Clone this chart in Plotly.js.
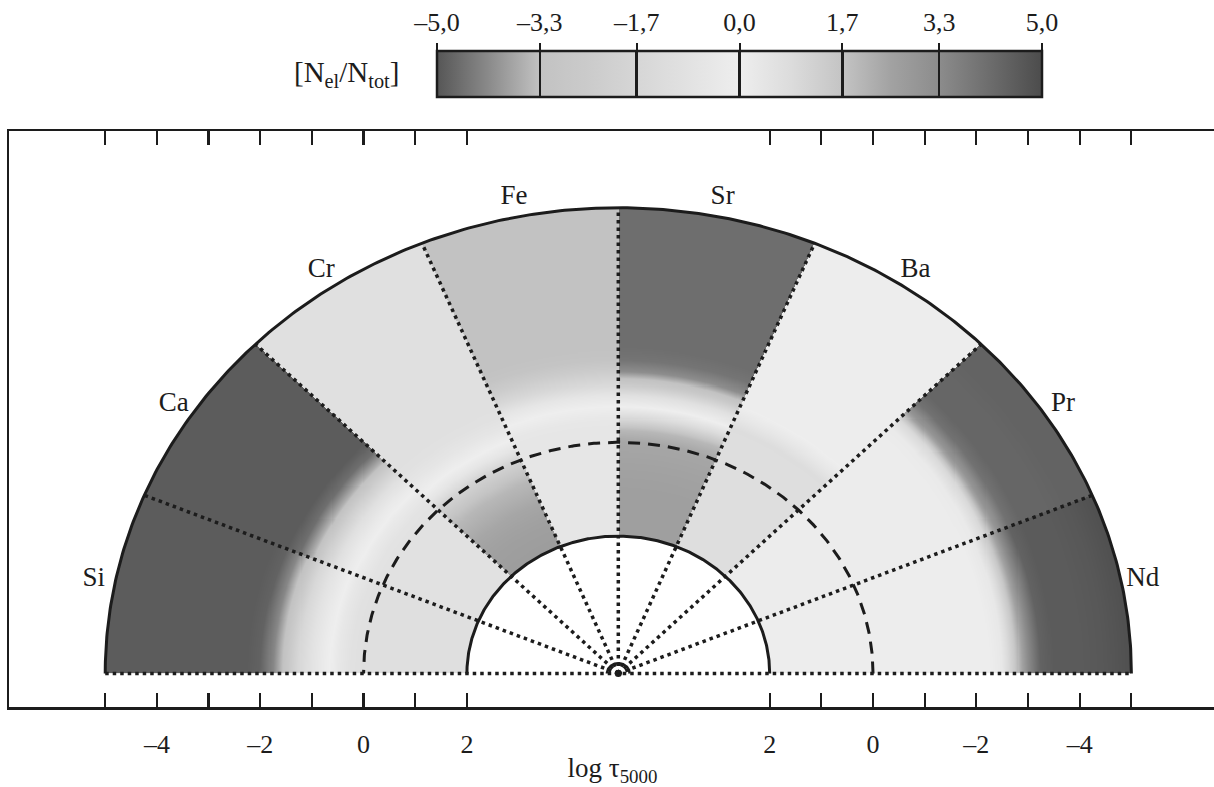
<!DOCTYPE html>
<html><head><meta charset="utf-8">
<script src="https://cdn.plot.ly/plotly-3.0.1.min.js"></script>
<style>html,body{margin:0;padding:0;overflow:hidden;background:#fff}</style>
</head><body><div id="chart" style="width:1218px;height:787px"></div>
<script>
// ---- data ----
const elements = ['Si', 'Ca', 'Cr', 'Fe', 'Sr', 'Ba', 'Pr', 'Nd'];   // sectors from left (180°) to right (0°)
const logTau = [-5, -4.5, -4, -3.5, -3.25, -3, -2.75, -2.5, -2.25, -2, -1.75, -1.5, -1.25, -1, -0.75, -0.5, -0.25, 0, 0.5, 1, 1.5, 2];
const abundSi = [-4.9, -4.9, -4.9, -4.9, -4.9, -4.9, -4.9, -4.9, -4.9, -4.8, -4.2, -3.0, -1.6, -0.8, -0.2, 0.3, 0.6, 0.7, 0.7, 0.7, 0.7, 0.7];
const abundCa = [-4.9, -4.9, -4.9, -4.9, -4.9, -4.9, -4.9, -4.9, -4.9, -4.9, -4.6, -3.6, -2.2, -1.0, -0.3, 0.2, 0.5, 0.6, 0.6, 0.6, 0.6, 0.6];
const abundCr = [-1.0, -1.0, -1.0, -1.0, -1.0, -1.0, -1.0, -1.0, -1.0, -1.0, -1.0, -1.0, -1.0, -0.9, -0.6, -0.1, 0.4, 1.2, 2.0, 2.4, 2.6, 2.7];
const abundFe = [-3.3, -3.3, -3.3, -3.3, -3.3, -3.3, -3.3, -3.3, -3.3, -3.3, -3.1, -2.4, -1.6, -0.6, 0.0, 0.3, 0.4, 0.4, 0.4, 0.4, 0.4, 0.4];
const abundSr = [-4.6, -4.6, -4.6, -4.6, -4.6, -4.6, -4.6, -4.6, -4.6, -4.6, -4.5, -4.1, -2.8, -1.0, 0.0, 1.0, 2.0, 2.4, 2.5, 2.6, 2.6, 2.6];
const abundBa = [0.05, 0.05, 0.05, 0.05, 0.05, 0.05, 0.05, 0.05, 0.05, 0.05, 0.05, 0.05, 0.05, -0.5, -1.2, -1.1, -1.1, -1.1, -1.1, -1.1, -1.1, -1.1];
const abundPr = [4.4, 4.4, 4.3, 4.3, 4.0, 3.0, 1.0, 0.2, 0.1, 0.1, 0.1, 0.1, 0.1, 0.1, 0.1, 0.1, 0.1, 0.1, 0.1, 0.1, 0.1, 0.1];
const abundNd = [4.9, 4.7, 4.6, 4.6, 4.4, 3.3, 1.5, 0.3, 0.05, 0.05, 0.05, 0.05, 0.05, 0.05, 0.05, 0.05, 0.05, 0.05, 0.05, 0.05, 0.05, 0.05];
const axisMajorTicks = [-4, -2, 0, 2];
const axisMajorText = ['\u20134', '\u20132', '0', '2'];
const axisMinorTicks = [-5, -3, -1, 1];
const cbarTicks = [-5, -3.3, -1.7, 0, 1.7, 3.3, 5];
const cbarTickText = ['\u20135,0', '\u20133,3', '\u20131,7', '0,0', '1,7', '3,3', '5,0'];
const logTauDashed = 0;

// ---- geometry ----
const profiles = [abundSi, abundCa, abundCr, abundFe, abundSr, abundBa, abundPr, abundNd];
const nSec = elements.length;
const secW = 180 / nSec;
const R0 = 4.93;                       // log tau at the centre of the half-disc
const rOut = R0 - logTau[0];
const rIn = R0 - logTau[logTau.length - 1];
const deg = Math.PI / 180;

function interp(prof, t) {
  if (t <= logTau[0]) return prof[0];
  for (let i = 1; i < logTau.length; i++) {
    if (t <= logTau[i]) {
      const f = (t - logTau[i - 1]) / (logTau[i] - logTau[i - 1]);
      return prof[i - 1] + f * (prof[i] - prof[i - 1]);
    }
  }
  return prof[prof.length - 1];
}

const dx = 0.02, dy = 0.022;
const xs = [], ys = [];
for (let x = -rOut - 0.01; x <= rOut + 0.02; x += dx) xs.push(x);
for (let y = dy / 2; y <= rOut + dy; y += dy) ys.push(y);
const z = ys.map(y => xs.map(x => {
  const r = Math.hypot(x, y);
  if (r > rOut || r < rIn) return null;
  const th = Math.atan2(y, x) / deg;
  let k = Math.floor((180 - th) / secW);
  k = Math.max(0, Math.min(nSec - 1, k));
  return interp(profiles[k], R0 - r);
}));

const colorscale = [
  [0.000, '#565656'], [0.085, '#8a8a8a'], [0.170, '#c2c2c2'], [0.250, '#cbcbcb'],
  [0.330, '#d6d6d6'], [0.415, '#e2e2e2'], [0.500, '#eeeeee'], [0.585, '#dcdcdc'],
  [0.670, '#c4c4c4'], [0.750, '#a2a2a2'], [0.830, '#8c8c8c'], [0.915, '#6c6c6c'], [1.000, '#4c4c4c']
];

function arc(r) {
  const X = [], Y = [];
  for (let a = 0; a <= 180.001; a += 0.5) { X.push(r * Math.cos(a * deg)); Y.push(r * Math.sin(a * deg)); }
  return {X, Y};
}
const ink = '#1c1c1c';
const serif = 'Liberation Serif, serif';
const traces = [];
traces.push({
  type: 'heatmap', x: xs, y: ys, z: z, zmin: -5, zmax: 5, colorscale: colorscale,
  zsmooth: false, hoverinfo: 'skip',
  colorbar: {
    orientation: 'h', xref: 'paper', yref: 'paper',
    x: 437 / 1218, xanchor: 'left', y: (787 - 51) / 787, yanchor: 'top',
    lenmode: 'pixels', len: 605, thicknessmode: 'pixels', thickness: 46,
    xpad: 0, ypad: 0, outlinewidth: 2.5, outlinecolor: ink,
    tickmode: 'array', tickvals: cbarTicks.slice(1, -1), ticks: 'inside', ticklen: 46,
    tickwidth: 2.5, tickcolor: ink, showticklabels: false, title: {text: ''}
  }
});
// radial dotted lines + base line
const rx = [], ry = [];
for (let k = 1; k < nSec; k++) {
  const a = k * secW * deg;
  rx.push(0, rOut * Math.cos(a), null); ry.push(0, rOut * Math.sin(a), null);
}
rx.push(-rOut, rOut); ry.push(0, 0);
traces.push({type: 'scatter', mode: 'lines', x: rx, y: ry, hoverinfo: 'skip',
  line: {color: ink, width: 3.5, dash: '3.5px,4px'}});
// dashed log tau = 0
const ad = arc(R0 - logTauDashed);
traces.push({type: 'scatter', mode: 'lines', x: ad.X, y: ad.Y, hoverinfo: 'skip',
  line: {color: ink, width: 3, dash: '12px,8px'}});
// outer / inner arcs
const ao = arc(rOut), ai = arc(rIn), ac = arc(0.22);
traces.push({type: 'scatter', mode: 'lines', x: ao.X, y: ao.Y, hoverinfo: 'skip', line: {color: ink, width: 3}});
traces.push({type: 'scatter', mode: 'lines', x: ai.X, y: ai.Y, hoverinfo: 'skip', line: {color: ink, width: 3}});
traces.push({type: 'scatter', mode: 'lines', x: ac.X, y: ac.Y, hoverinfo: 'skip', line: {color: ink, width: 2.5}});
traces.push({type: 'scatter', mode: 'markers', x: [0], y: [0], hoverinfo: 'skip', marker: {color: ink, size: 7}});
// element labels
const lr = rOut + 0.42;
traces.push({type: 'scatter', mode: 'text', hoverinfo: 'skip',
  x: elements.map((e, k) => lr * Math.cos((180 - secW * (k + 0.5)) * deg)),
  y: elements.map((e, k) => lr * Math.sin((180 - secW * (k + 0.5)) * deg)),
  text: elements, textposition: 'middle center',
  textfont: {family: serif, size: 27, color: ink}});
// dummy trace for colorbar label axis
traces.push({type: 'scatter', x: [], y: [], xaxis: 'x2', yaxis: 'y2', hoverinfo: 'skip'});

// mirror the log tau scale on both sides of the centre
const majPos = [], majTxt = [], minPos = [];
axisMajorTicks.forEach((t, i) => { majPos.push(-(R0 - t)); majPos.push(R0 - t); majTxt.push(axisMajorText[i]); majTxt.push(axisMajorText[i]); });
axisMinorTicks.forEach(t => { minPos.push(-(R0 - t)); minPos.push(R0 - t); });

const W = 1218, H = 787;
const pxX = 51.67, pxY = 46.9, cx = 618.3, cy = 673.5;
const xl = 9, xr = 1216, yt = 131, yb = 707;
const layout = {
  width: W, height: H, margin: {l: 0, r: 0, t: 0, b: 0},
  paper_bgcolor: '#fff', plot_bgcolor: '#fff', showlegend: false,
  font: {family: serif, color: ink, size: 26},
  xaxis: {
    domain: [xl / W, xr / W], range: [(xl - cx) / pxX, (xr - cx) / pxX],
    showgrid: false, zeroline: false, showline: true, linecolor: ink, linewidth: 2.5, mirror: 'ticks',
    tickmode: 'array', tickvals: majPos, ticktext: majTxt, ticks: 'inside', ticklen: 14,
    tickwidth: 2.2, tickcolor: ink, ticklabelstandoff: 12,
    minor: {tickmode: 'array', tickvals: minPos, ticks: 'inside', ticklen: 14, tickwidth: 2.2, tickcolor: ink, showgrid: false},
    tickfont: {family: serif, size: 26, color: ink},
    title: {text: 'log \u03c4<sub>5000</sub>', standoff: 2, font: {family: serif, size: 27, color: ink}},
    fixedrange: true
  },
  yaxis: {
    domain: [(H - yb) / H, (H - yt) / H], range: [(cy - yb) / pxY, (cy - yt) / pxY],
    showgrid: false, zeroline: false, showline: true, linecolor: ink, linewidth: 2.5, mirror: true,
    ticks: '', showticklabels: false, fixedrange: true
  },
  xaxis2: {
    domain: [437 / W, 1042 / W], anchor: 'y2', side: 'top', range: [-5, 5],
    tickmode: 'array', tickvals: cbarTicks, ticktext: cbarTickText, ticks: 'outside', ticklen: 7,
    tickwidth: 2, tickcolor: ink, showline: false, showgrid: false, zeroline: false,
    ticklabelstandoff: 2,
    tickfont: {family: serif, size: 26, color: ink}, fixedrange: true
  },
  yaxis2: {domain: [(H - 97) / H, (H - 51) / H], anchor: 'x2', range: [0, 1], visible: false, fixedrange: true},
  annotations: [{
    xref: 'paper', yref: 'paper', x: 346 / W, y: (H - 74) / H, xanchor: 'center', yanchor: 'middle',
    showarrow: false, text: '[N<sub>el</sub>/N<sub>tot</sub>]',
    font: {family: serif, size: 29, color: ink}
  }]
};
Plotly.newPlot('chart', traces, layout, {staticPlot: true, displayModeBar: false});
</script></body></html>
